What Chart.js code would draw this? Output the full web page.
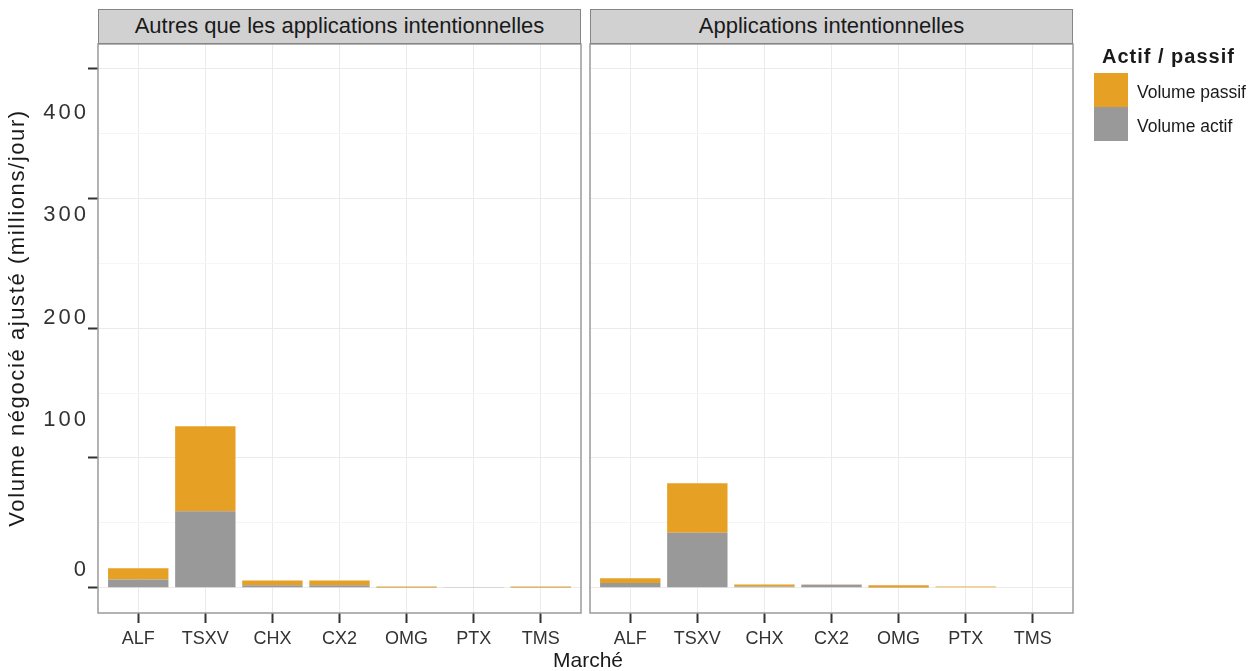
<!DOCTYPE html>
<html>
<head>
<meta charset="utf-8">
<script src="https://cdn.jsdelivr.net/npm/chart.js@4.4.0/dist/chart.umd.min.js"></script>
<style>
body { margin: 0; width: 1255px; height: 671px; background: #fff; position: relative; overflow: hidden;
       font-family: "Liberation Sans", Arial, sans-serif; color: #1a1a1a; }
canvas { position: absolute; top: 0; }
.strip { position: absolute; top: 9px; height: 35px; width: 483px; background: #d1d1d1; border: 1.5px solid #858585;
         box-sizing: border-box; font-size: 22px; line-height: 32px; text-align: center; color: #1a1a1a; }
.legend-title { position: absolute; left: 1102px; top: 45px; font-size: 20px; font-weight: bold; letter-spacing: 1px; }
.key { position: absolute; left: 1094px; width: 34px; height: 34px; }
.key-label { position: absolute; left: 1137px; font-size: 17.5px; }
.xtitle { position: absolute; left: 0; width: 1176px; top: 648px; text-align: center; font-size: 21px; }
</style>
</head>
<body>
<canvas id="left" width="590" height="671" style="left:0"></canvas>
<canvas id="right" width="670" height="671" style="left:585px"></canvas>

<div class="strip" style="left:98px">Autres que les applications intentionnelles</div>
<div class="strip" style="left:590px">Applications intentionnelles</div>

<div class="legend-title">Actif / passif</div>
<div class="key" style="top:73px; background:#e6a024"></div>
<div class="key" style="top:107px; background:#999999"></div>
<div class="key-label" style="top:82px">Volume passif</div>
<div class="key-label" style="top:116px">Volume actif</div>

<div class="xtitle">Marché</div>

<script>
var markets = ['ALF', 'TSXV', 'CHX', 'CX2', 'OMG', 'PTX', 'TMS'];

// Autres que les applications intentionnelles
var activeOther = [6.4, 59, 1.8, 1.8, 0.2, 0.5, 0.2];
var passiveOther = [8.5, 65.5, 3.8, 3.8, 0.8, 0.1, 0.8];

// Applications intentionnelles
var activeIntent = [3.6, 42.4, 1.0, 2.2, 0.2, 0.3, 0];
var passiveIntent = [3.6, 38, 1.5, 0.3, 1.6, 0.7, 0];

var yTicks = [0, 100, 200, 300, 400];
var yMinor = [50, 150, 250, 350];
var yTitle = 'Volume négocié ajusté (millions/jour)';

// the tick labels sit off their tick marks in the original
var yLabelShift = [-18, -38, -10, 17, 44];

var fontFamily = '"Liberation Sans", Arial, sans-serif';

var panelFrame = {
    id: 'panelFrame',
    afterDraw: function (chart) {
        var a = chart.chartArea, c = chart.ctx;
        c.save();
        c.strokeStyle = '#9a9a9a';
        c.lineWidth = 1.5;
        c.strokeRect(a.left, a.top, a.right - a.left, a.bottom - a.top);
        c.restore();
    }
};

var yAxisText = {
    id: 'yAxisText',
    afterDraw: function (chart) {
        var s = chart.scales.y, c = chart.ctx;
        c.save();
        c.fillStyle = '#333';
        c.font = '22px ' + fontFamily;
        c.letterSpacing = '3px';
        c.textAlign = 'right';
        c.textBaseline = 'middle';
        yTicks.forEach(function (v, i) {
            c.fillText(String(v), 89, s.getPixelForValue(v) + yLabelShift[i]);
        });
        c.translate(18, 318);
        c.rotate(-Math.PI / 2);
        c.textAlign = 'center';
        c.fillStyle = '#1a1a1a';
        c.letterSpacing = '1.6px';
        c.fillText(yTitle, 0, 0);
        c.restore();
    }
};

function toPoints(values) {
    return values.map(function (v, i) { return { x: i, y: v }; });
}

function makePanel(id, active, passive, isLeft) {
    var ctx = document.getElementById(id).getContext('2d');
    return new Chart(ctx, {
        type: 'bar',
        data: {
            datasets: [{
                label: 'Volume actif',
                data: toPoints(active),
                backgroundColor: '#999999',
                borderWidth: 0
            }, {
                label: 'Volume passif',
                data: toPoints(passive),
                backgroundColor: '#e6a024',
                borderWidth: 0
            }]
        },
        options: {
            responsive: false,
            animation: false,
            layout: {
                padding: isLeft ? { top: 44, right: 9, left: 0, bottom: 0 }
                                : { top: 44, right: 182, left: 5, bottom: 0 }
            },
            datasets: { bar: { categoryPercentage: 1, barPercentage: 0.9 } },
            plugins: { legend: { display: false }, tooltip: { enabled: false } },
            scales: {
                x: {
                    type: 'linear',
                    stacked: true,
                    offset: false,
                    min: -0.6,
                    max: 6.6,
                    afterBuildTicks: function (s) {
                        s.ticks = markets.map(function (m, i) { return { value: i }; });
                    },
                    afterFit: function (s) { s.height = 58; },
                    ticks: {
                        callback: function (v) { return markets[v]; },
                        autoSkip: false,
                        maxRotation: 0,
                        padding: 5,
                        color: '#333',
                        font: { family: fontFamily, size: 18 }
                    },
                    grid: { offset: false, color: '#ebebeb', lineWidth: 1, tickLength: 10, tickColor: '#333', tickWidth: 2 },
                    border: { display: false }
                },
                y: {
                    type: 'linear',
                    stacked: true,
                    min: -19.5,
                    max: 419,
                    afterBuildTicks: function (s) {
                        s.ticks = yTicks.concat(yMinor).sort(function (a, b) { return a - b; })
                            .map(function (v) { return { value: v }; });
                    },
                    afterFit: function (s) { s.width = isLeft ? 98 : 0; },
                    ticks: { display: false },
                    grid: {
                        color: function (c) { return yTicks.indexOf(c.tick.value) >= 0 ? '#ebebeb' : '#f5f5f5'; },
                        lineWidth: 1,
                        drawTicks: isLeft,
                        tickLength: 10,
                        tickWidth: 2,
                        tickColor: function (c) { return yTicks.indexOf(c.tick.value) >= 0 ? '#333' : 'rgba(0,0,0,0)'; }
                    },
                    border: { display: false }
                }
            }
        },
        plugins: isLeft ? [panelFrame, yAxisText] : [panelFrame]
    });
}

makePanel('left', activeOther, passiveOther, true);
makePanel('right', activeIntent, passiveIntent, false);
</script>
</body>
</html>
